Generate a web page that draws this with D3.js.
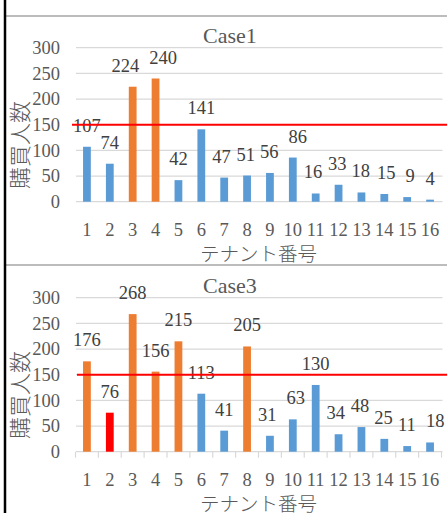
<!DOCTYPE html>
<html><head><meta charset="utf-8">
<script src="https://cdn.jsdelivr.net/npm/d3@7"></script>
<style>
html,body{margin:0;padding:0;background:#fff;}
svg{display:block;}
text{font-family:"Liberation Serif","DejaVu Serif","Noto Sans CJK JP",serif;}
text.jp{font-family:"Noto Sans CJK JP","Noto Sans CJK SC",sans-serif;font-weight:300;}
</style></head>
<body>
<script>
// ---- data ----
const tenants = ["1","2","3","4","5","6","7","8","9","10","11","12","13","14","15","16"];
const yTicks = [0, 50, 100, 150, 200, 250, 300];
const threshold = 150;

const case1Title = "Case1";
const case1Values = [107, 74, 224, 240, 42, 141, 47, 51, 56, 86, 16, 33, 18, 15, 9, 4];
const case1Orange = ["3", "4"];
const case1Red = [];

const case3Title = "Case3";
const case3Values = [176, 76, 268, 156, 215, 113, 41, 205, 31, 63, 130, 34, 48, 25, 11, 18];
const case3Orange = ["1", "3", "4", "5", "8"];
const case3Red = ["2"];

const xAxisTitle = "テナント番号";
const yAxisTitle = "購買人数";

// ---- drawing ----
const W = 447, H = 513;
const svg = d3.select("body").append("svg").attr("width", W).attr("height", H);

const BLUE = "#5B9BD5", ORANGE = "#ED7D31", RED = "#FF0000";
const GRID = "#D9D9D9", TXT = "#595959", LBL = "#404040";
const FS = 18.5;

function drawPanel(opt) {
  const { top, title, values, orange, red, ticks, redStart } = opt;
  const y0 = top + 201.7, y1 = top + 47.7;
  const x = d3.scaleBand().domain(tenants).range([75.5, 441.5]).padding(0);
  const y = d3.scaleLinear().domain([0, 300]).range([y0, y1]);
  const g = svg.append("g");

  // title
  g.append("text").attr("x", 230).attr("y", top + 35).attr("dy", "0.35em")
    .attr("text-anchor", "middle").attr("fill", TXT).attr("font-size", 22).text(title);

  // grid
  g.append("g").selectAll("line").data(yTicks).join("line")
    .attr("x1", 76).attr("x2", 442.5)
    .attr("y1", d => y(d)).attr("y2", d => y(d))
    .attr("stroke", GRID).attr("stroke-width", 1.2);

  // y axis labels
  const yAxis = d3.axisLeft(y).tickValues(yTicks).tickSize(0).tickPadding(0);
  const ya = g.append("g").attr("transform", "translate(60,0)").call(yAxis);
  ya.select(".domain").remove();
  ya.selectAll("text").attr("font-size", FS).attr("fill", TXT);

  // x axis
  const xAxis = d3.axisBottom(x).tickSize(0).tickPadding(0);
  const xa = g.append("g").attr("transform", `translate(0,${y0})`).call(xAxis);
  xa.select(".domain").remove();
  xa.selectAll("text").attr("font-size", FS).attr("fill", TXT)
    .attr("y", 28).attr("dy", "0.35em");

  if (ticks) {
    const bounds = tenants.map(d => x(d)).concat([x.range()[1]]);
    g.append("g").selectAll("line").data(bounds).join("line")
      .attr("x1", d => d).attr("x2", d => d)
      .attr("y1", y0).attr("y2", y0 + 6)
      .attr("stroke", GRID).attr("stroke-width", 1.2);
  }

  // bars
  const bw = x.bandwidth() * 0.34;
  const colorOf = d => red.includes(d) ? RED : (orange.includes(d) ? ORANGE : BLUE);
  g.append("g").selectAll("rect").data(tenants).join("rect")
    .attr("x", d => x(d) + x.bandwidth() / 2 - bw / 2)
    .attr("width", bw)
    .attr("y", (d, i) => y(values[i]))
    .attr("height", (d, i) => y0 - y(values[i]))
    .attr("fill", colorOf);

  // data labels with simple collision avoidance
  const labels = tenants.map((d, i) => ({
    cx: x(d) + x.bandwidth() / 2,
    by: y(values[i]) - 15,
    text: String(values[i]),
  }));
  labels.forEach(l => { l.w = l.text.length * FS * 0.5; });
  for (let i = 1; i < labels.length; i++) {
    const a = labels[i - 1], b = labels[i];
    if (Math.abs(a.by - b.by) < FS * 0.9) {
      const need = (a.w + b.w) / 2 + 10;
      const have = b.cx - a.cx;
      if (have < need) {
        const s = (need - have) / 2;
        a.cx -= s; b.cx += s;
      }
    }
  }
  g.append("g").selectAll("text").data(labels).join("text")
    .attr("x", d => d.cx).attr("y", d => d.by)
    .attr("text-anchor", "middle").attr("font-size", FS).attr("fill", LBL)
    .text(d => d.text);

  // threshold line
  g.append("line").attr("x1", redStart).attr("x2", W)
    .attr("y1", y(threshold)).attr("y2", y(threshold))
    .attr("stroke", RED).attr("stroke-width", 2);

  // axis titles
  g.append("text").attr("class", "jp").attr("x", 258.5).attr("y", top + 254)
    .attr("dy", "0.35em").attr("text-anchor", "middle")
    .attr("font-size", 19.5).attr("fill", TXT).text(xAxisTitle);

  g.append("text").attr("class", "jp")
    .attr("transform", `translate(20,${top + 145}) rotate(-90)`)
    .attr("dy", "0.35em").attr("text-anchor", "middle")
    .attr("font-size", 22).attr("fill", TXT).text(yAxisTitle);
}

drawPanel({ top: 0, title: case1Title, values: case1Values, orange: case1Orange, red: case1Red, ticks: false, redStart: 72 });
drawPanel({ top: 250, title: case3Title, values: case3Values, orange: case3Orange, red: case3Red, ticks: true, redStart: 77 });

// frame lines
svg.append("line").attr("x1", 6).attr("x2", W).attr("y1", 16).attr("y2", 16)
  .attr("stroke", "#A6A6A6").attr("stroke-width", 1.5);
svg.append("line").attr("x1", 6).attr("x2", W).attr("y1", 265).attr("y2", 265)
  .attr("stroke", "#A6A6A6").attr("stroke-width", 1.5);
svg.append("line").attr("x1", 5).attr("x2", 5).attr("y1", 0).attr("y2", H)
  .attr("stroke", "#000").attr("stroke-width", 2.5);
</script>
</body></html>
